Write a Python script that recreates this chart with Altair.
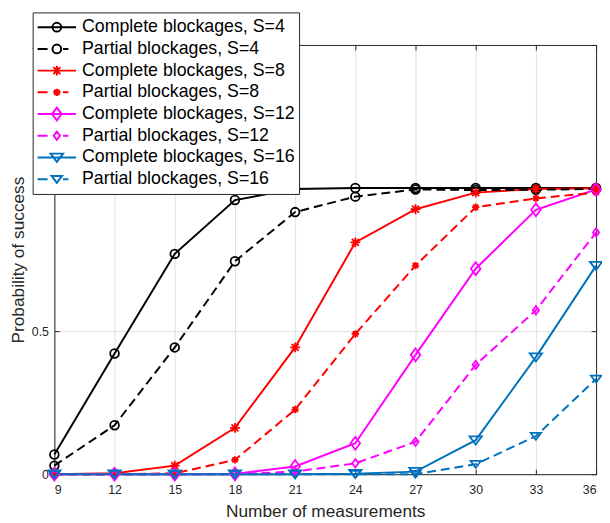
import altair as alt
import pandas as pd

# ---------------- data ----------------
measurements = [9, 12, 15, 18, 21, 24, 27, 30, 33, 36]
y_ticks = [0, 0.5, 1, 1.5]

complete_s4 = [0.069, 0.422, 0.770, 0.958, 0.997, 1.000, 1.000, 1.000, 1.000, 1.000]
partial_s4 = [0.030, 0.171, 0.443, 0.744, 0.916, 0.970, 0.995, 0.993, 0.994, 0.997]
complete_s8 = [0.000, 0.003, 0.030, 0.162, 0.443, 0.810, 0.926, 0.984, 0.997, 0.999]
partial_s8 = [0.000, 0.000, 0.003, 0.050, 0.226, 0.490, 0.729, 0.933, 0.964, 0.984]
complete_s12 = [0.000, 0.000, 0.000, 0.001, 0.027, 0.108, 0.417, 0.718, 0.924, 0.995]
partial_s12 = [0.000, 0.000, 0.000, 0.000, 0.009, 0.038, 0.113, 0.382, 0.573, 0.845]
complete_s16 = [0.000, 0.000, 0.000, 0.000, 0.000, 0.002, 0.009, 0.119, 0.409, 0.729]
partial_s16 = [0.000, 0.000, 0.000, 0.000, 0.000, 0.000, 0.000, 0.035, 0.133, 0.333]

series_names = [
    "Complete blockages, S=4",
    "Partial blockages, S=4",
    "Complete blockages, S=8",
    "Partial blockages, S=8",
    "Complete blockages, S=12",
    "Partial blockages, S=12",
    "Complete blockages, S=16",
    "Partial blockages, S=16",
]
series_kinds = ["complete", "partial"] * 4
series_values = [complete_s4, partial_s4, complete_s8, partial_s8,
                 complete_s12, partial_s12, complete_s16, partial_s16]

# ---------------- styles ----------------
series_colors = ["#000000", "#000000", "#ff0000", "#ff0000",
                 "#ff00ff", "#ff00ff", "#0072bd", "#0072bd"]
series_markers = ["circle", "circle", "asterisk", "dotstar",
                  "diamond", "diamond_small", "triangle", "triangle_small"]


def f(v):
    return f"{v:.3f}"


def circle_path(s):
    return f"M{f(s)},0A{f(s)},{f(s)} 0 1,1 {f(-s)},0A{f(s)},{f(s)} 0 1,1 {f(s)},0Z"


def asterisk_path(s):
    a = 0.707 * s
    return (f"M{f(-s)},0L{f(s)},0M0,{f(-s)}L0,{f(s)}"
            f"M{f(-a)},{f(-a)}L{f(a)},{f(a)}M{f(-a)},{f(a)}L{f(a)},{f(-a)}")


def diamond_path(s):
    return f"M0,{f(-s)}L{f(0.75 * s)},0L0,{f(s)}L{f(-0.75 * s)},0Z"


def triangle_path(s):
    return f"M{f(-s)},{f(-0.62 * s)}L{f(s)},{f(-0.62 * s)}L0,{f(0.7 * s)}Z"


def marker_path(kind, k=1.0):
    if kind == "circle":
        return circle_path(0.88 * k)
    if kind == "asterisk":
        return asterisk_path(1.0 * k)
    if kind == "dotstar":
        return asterisk_path(0.75 * k) + circle_path(0.35 * k) + circle_path(0.14 * k)
    if kind == "diamond":
        return diamond_path(1.3 * k)
    if kind == "diamond_small":
        return diamond_path(0.85 * k)
    if kind == "triangle":
        return triangle_path(1.25 * k)
    return triangle_path(1.05 * k)


LEGEND_SYMBOL = 1521  # (39 px)^2
K_LEG = 5.0 / 19.5
legend_paths = []
for kind, mk in zip(series_kinds, series_markers):
    if kind == "complete":
        seg = "M-1,0L1,0"
    else:
        seg = "M-1,0L-0.48,0M0.32,0L0.6,0"
    legend_paths.append(seg + marker_path(mk, K_LEG))

rows = []
for name, kind, vals, col, mk in zip(series_names, series_kinds, series_values,
                                     series_colors, series_markers):
    for xv, yv in zip(measurements, vals):
        rows.append({"x": xv, "y": yv, "series": name, "kind": kind,
                     "hex": col, "marker": marker_path(mk)})
df = pd.DataFrame(rows)

FONT = "Liberation Sans"
AX = "#262626"
GRID = "#dfdfdf"

x_scale = alt.Scale(domain=[9, 36], nice=False, zero=False)
y_scale = alt.Scale(domain=[0, 1.5], nice=False)

x_axis = alt.Axis(values=measurements, grid=True, gridColor=GRID, domainColor=AX,
                  tickColor=AX, tickSize={"expr": "-5"}, labelPadding=15,
                  labelColor=AX, labelFont=FONT, labelFontSize=12.5,
                  title="Number of measurements", titleFont=FONT, titleFontSize=17.5,
                  titleFontWeight="normal", titleColor=AX, titlePadding=6)
y_axis = alt.Axis(values=y_ticks, grid=True, gridColor=GRID, domainColor=AX,
                  tickColor=AX, tickSize={"expr": "-5"}, labelPadding=11,
                  labelExpr="datum.value", labelColor=AX, labelFont=FONT,
                  labelFontSize=12.5, title="Probability of success", titleFont=FONT,
                  titleFontSize=17.5, titleFontWeight="normal", titleColor=AX,
                  titlePadding=4)
x_top = alt.Axis(orient="top", values=measurements, labels=False, title=None,
                 grid=False, domainColor=AX, tickColor=AX, tickSize={"expr": "-5"})
y_right = alt.Axis(orient="right", values=y_ticks, labels=False, title=None,
                   grid=False, domainColor=AX, tickColor=AX, tickSize={"expr": "-5"})

base = alt.Chart(df)

solid = base.transform_filter("datum.kind == 'complete'").mark_line(strokeWidth=2).encode(
    x=alt.X("x:Q", scale=x_scale, axis=x_axis),
    y=alt.Y("y:Q", scale=y_scale, axis=y_axis),
    detail="series:N",
    stroke=alt.Stroke("hex:N", scale=None),
)
dashed = base.transform_filter("datum.kind == 'partial'").mark_line(
    strokeWidth=2, strokeDash=[9, 5]).encode(
    x=alt.X("x:Q", scale=x_scale, axis=None),
    y=alt.Y("y:Q", scale=y_scale, axis=None),
    detail="series:N",
    stroke=alt.Stroke("hex:N", scale=None),
)
points = base.mark_point(size=100, strokeWidth=1.8, filled=False, opacity=1).encode(
    x=alt.X("x:Q", scale=x_scale, axis=None),
    y=alt.Y("y:Q", scale=y_scale, axis=None),
    stroke=alt.Stroke("hex:N", scale=None),
    shape=alt.Shape("marker:N", scale=None),
)

leg = alt.Legend(title=None, orient="none", legendX=-22, legendY=-33,
                 direction="vertical", symbolSize=LEGEND_SYMBOL, symbolStrokeWidth=2,
                 symbolOpacity=1, clipHeight=22, rowPadding=0, padding=4,
                 labelFont=FONT, labelFontSize=18, labelColor="#000000",
                 labelLimit=400, labelOffset=5, strokeColor=AX, fillColor="white")

legend_layer = base.mark_point(size=100, filled=False, opacity=0).encode(
    x=alt.X("x:Q", scale=x_scale, axis=x_top),
    y=alt.Y("y:Q", scale=y_scale, axis=y_right),
    stroke=alt.Stroke("series:N", scale=alt.Scale(domain=series_names, range=series_colors),
                      legend=leg),
    shape=alt.Shape("series:N", scale=alt.Scale(domain=series_names, range=legend_paths),
                    legend=leg),
)

chart = alt.layer(solid, dashed, points, legend_layer).resolve_axis(
    x="independent", y="independent"
).properties(
    width=549, height=435,
    autosize=alt.AutoSizeParams(type="none"),
    padding={"left": 47, "top": 34, "right": 6, "bottom": 46},
).configure_view(stroke=None)

chart.save("out.html", embed_options={"renderer": "svg", "actions": False})
